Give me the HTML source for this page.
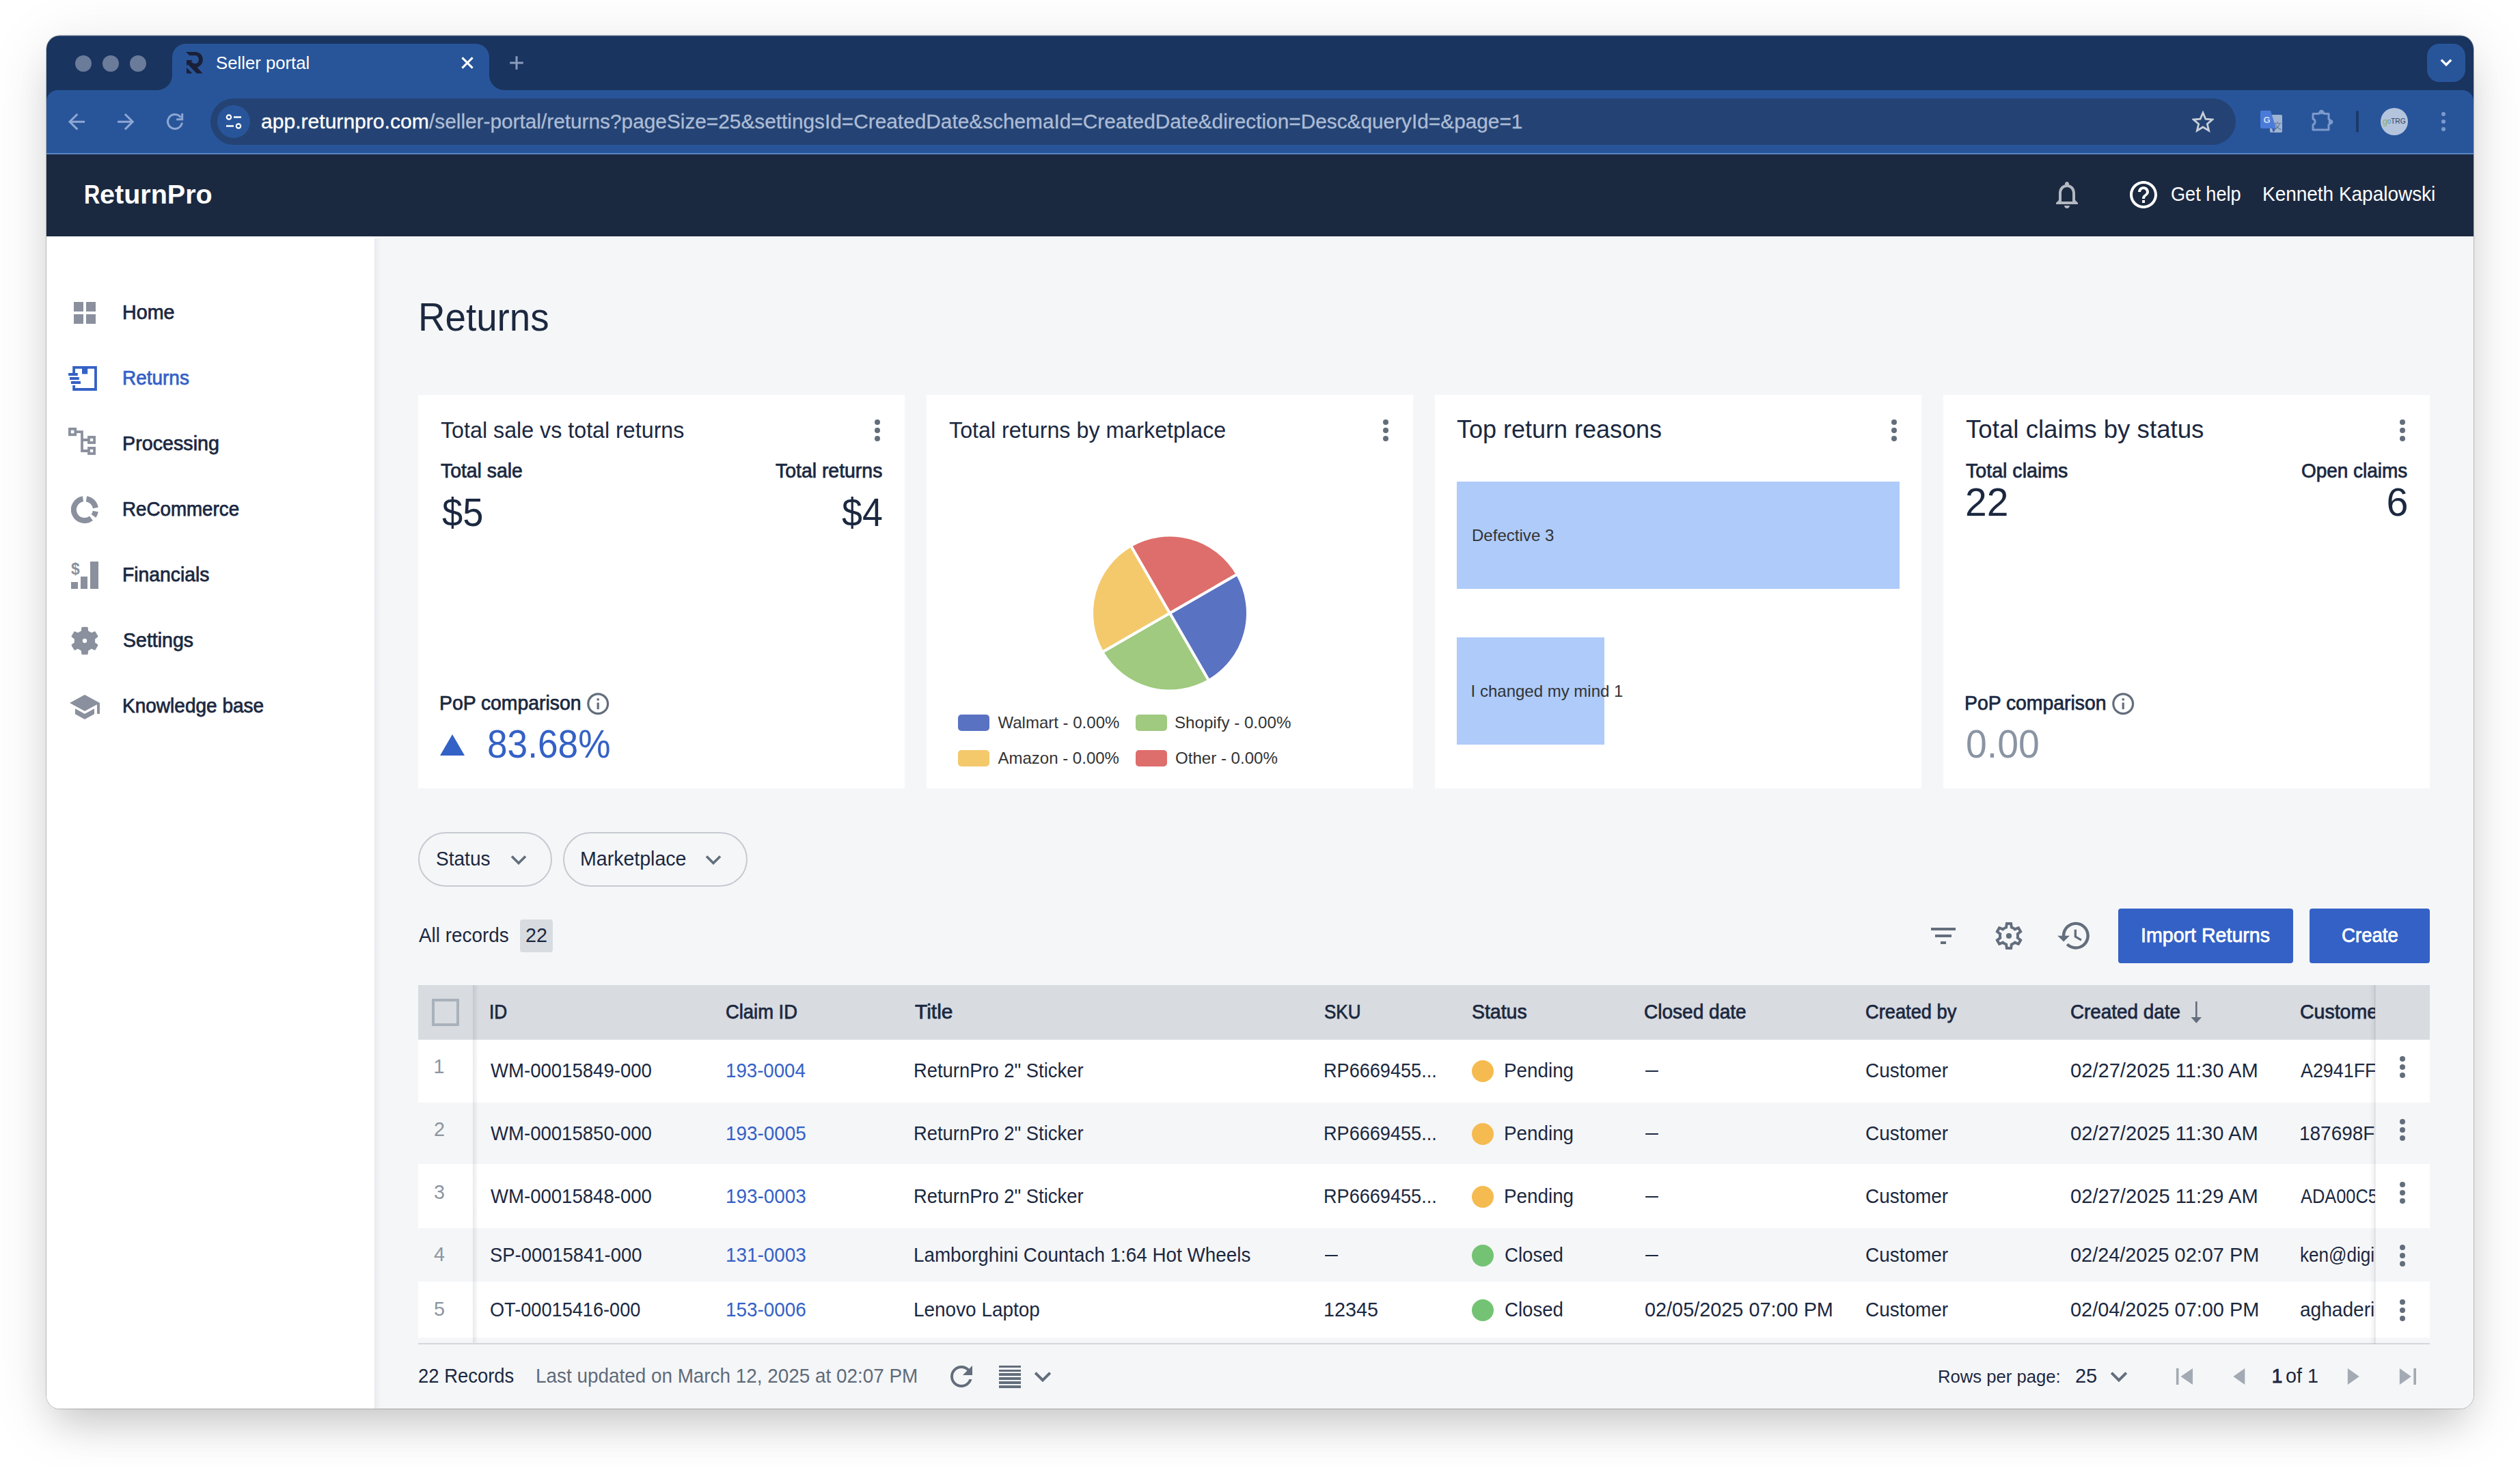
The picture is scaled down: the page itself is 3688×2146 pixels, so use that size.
<!DOCTYPE html><html><head><meta charset="utf-8"><title>Seller portal</title><style>
html,body{margin:0;padding:0;background:#fff;}
body{width:3688px;height:2146px;position:relative;overflow:hidden;font-family:"Liberation Sans", Arial, sans-serif;}
#sh{position:absolute;left:68px;top:52px;width:3552px;height:2010px;border-radius:20px;box-shadow:0 0 0 1px rgba(0,0,0,.20),0 16px 90px rgba(0,0,0,.115),0 32px 56px -14px rgba(0,0,0,.155);}
#w{position:absolute;left:0;top:0;width:3688px;height:2146px;clip-path:inset(52px 68px 84px 68px round 20px);}
#w div,#w svg,#w span{position:absolute;}
#w span{white-space:nowrap;line-height:1;transform-origin:0 0;}
#w span i{display:inline-block;width:0;height:0;}

</style></head><body><div id="sh"></div><div id="w">
<div style="left:68px;top:52px;width:3552px;height:110px;background:#19345e;"></div>
<div style="left:68px;top:132px;width:3552px;height:94px;background:#28559a;border-radius:16px 16px 0 0;"></div>
<svg style="left:0px;top:0px;" width="800" height="140" viewBox="0 0 800 140"><path d="M230 132 A22 22 0 0 0 252 110 L252 84 A20 20 0 0 1 272 64 L696 64 A20 20 0 0 1 716 84 L716 110 A22 22 0 0 0 738 132 Z" fill="#28559a"/></svg>
<div style="left:68px;top:52px;width:3552px;height:1px;background:rgba(190,200,220,.35);"></div>
<div style="left:110px;top:81px;width:24px;height:24px;background:#6b7b9a;border-radius:50%;"></div>
<div style="left:150px;top:81px;width:24px;height:24px;background:#6b7b9a;border-radius:50%;"></div>
<div style="left:190px;top:81px;width:24px;height:24px;background:#6b7b9a;border-radius:50%;"></div>
<svg style="left:272.3px;top:76.3px;" width="24.83" height="31.4" viewBox="460 290 700 885"><path d="M460 290 H850 C1030 290 1160 430 1160 610 C1160 760 1070 880 930 925 L1150 1175 H905 L545 815 L490 870 V625 H735 L680 690 C720 740 780 770 850 770 C930 770 990 700 990 605 C990 510 930 440 850 440 H610 Z M490 935 L730 1175 H490 Z" fill="#1a2038"/></svg>
<span style="font-size:26px;color:#ffffff;left:315.51px;top:78.50px;transform:scaleX(0.9894);">Seller portal</span>
<svg style="left:671.75px;top:80px;" width="24" height="24" viewBox="0 0 24 24"><path d="M4.4 4.4 L19.6 19.6 M19.6 4.4 L4.4 19.6" stroke="#fff" stroke-width="3" fill="none"/></svg>
<svg style="left:743.75px;top:80px;" width="24" height="24" viewBox="0 0 24 24"><path d="M12 2.2 V21.8 M2.2 12 H21.8" stroke="#8a9cbd" stroke-width="3" fill="none"/></svg>
<div style="left:3552px;top:64px;width:56px;height:56px;background:#28559a;border-radius:18px;"></div>
<svg style="left:3566px;top:79px;" width="28" height="24" viewBox="0 0 28 24"><path d="M6.8 8.6 L14 15.8 L21.2 8.6" stroke="#fff" stroke-width="3.4" fill="none"/></svg>
<svg style="left:96px;top:160px;" width="184" height="36" viewBox="96 160 184 36"><g stroke="#8ea7d3" stroke-width="3" fill="none"><path d="M124.1 178.2 H102 M113.3 167 L102 178.2 L113.3 189.4"/><path d="M172.1 178.2 H194.2 M182.9 167 L194.2 178.2 L182.9 189.4"/><path d="M266.4 179.6 A10.5 10.5 0 1 1 264.6 172"/><path d="M266.7 166 V174.7 H258.2"/></g></svg>
<div style="left:308px;top:144px;width:2964px;height:68px;background:#244374;border-radius:34px;"></div>
<div style="left:318px;top:154px;width:48px;height:48px;background:#28559a;border-radius:50%;"></div>
<svg style="left:330px;top:166px;" width="24" height="24" viewBox="0 0 24 24"><circle cx="5" cy="5.5" r="3.2" stroke="#fff" stroke-width="2.2" fill="none"/><path d="M12 5.5 H23" stroke="#fff" stroke-width="2.4"/><circle cx="19" cy="18.5" r="3.2" stroke="#fff" stroke-width="2.2" fill="none"/><path d="M1 18.5 H12" stroke="#fff" stroke-width="2.4"/></svg>
<span style="font-size:28.6px;color:#ffffff;left:381.75px;top:164.00px;transform:scaleX(1.0519);-webkit-text-stroke:0.3px currentColor;">app.returnpro.com</span>
<span style="font-size:28.6px;color:#adbcd5;left:627.80px;top:164.00px;transform:scaleX(1.0423);-webkit-text-stroke:0.3px currentColor;">/seller-portal/returns?pageSize=25&amp;settingsId=CreatedDate&amp;schemaId=CreatedDate&amp;direction=Desc&amp;queryId=&amp;page=1</span>
<svg style="left:3208px;top:162px;" width="32" height="32" viewBox="0 0 32 32"><path d="M16 3 L19.9 12.2 L29.8 13 L22.3 19.5 L24.6 29.2 L16 24 L7.4 29.2 L9.7 19.5 L2.2 13 L12.1 12.2 Z" stroke="#c9ced8" stroke-width="2.8" fill="none" stroke-linejoin="miter"/></svg>
<svg style="left:3308px;top:162px;" width="32" height="32" viewBox="0 0 32 32"><rect x="14" y="6" width="18" height="26" rx="2" fill="#9fb3d3"/><path d="M0 2 Q0 0 2 0 H15 L23 26 H2 Q0 26 0 24 Z" fill="#4a7bd8"/><path d="M17 26 L23 26 L19 32 Z" fill="#3a59b0"/></svg>
<span style="font-size:13px;color:#cfdcf3;font-weight:700;left:3312.60px;top:168.80px;">G</span>
<span style="font-size:12px;color:#5a7396;font-family:'Liberation Sans','Noto Sans CJK SC',sans-serif;left:3327.00px;top:179.00px;">文</span>
<svg style="left:3380px;top:158px;" width="36" height="36" viewBox="0 0 36 36"><path d="M5 8.5 H13.5 A4.2 4.2 0 0 1 21.5 8.5 H28 V16.5 A4.2 4.2 0 0 1 28 24.5 V32 H5 V24.5 A4.5 4.5 0 0 0 5 16 Z" stroke="#7d9acb" stroke-width="3" fill="none" stroke-linejoin="round"/><circle cx="17.5" cy="6" r="3.3" fill="#7d9acb"/><circle cx="31" cy="20.5" r="3.3" fill="#7d9acb"/></svg>
<div style="left:3448px;top:162px;width:4px;height:32px;background:#1b3a6b;border-radius:2px;"></div>
<div style="left:3484px;top:158px;width:40px;height:40px;background:#b4c4dd;border-radius:50%;"></div>
<span style="font-size:12.3px;color:#8bb055;left:3487.00px;top:171.50px;">g</span><span style="font-size:10.25px;color:#4f8fc8;left:3493.50px;top:172.50px;">o</span><span style="font-size:11.27px;color:#2a3f63;left:3499.00px;top:171.50px;transform:scaleX(0.9124);">TRG</span>
<div style="left:3573px;top:164px;width:6px;height:6px;background:#7d9acb;border-radius:50%;"></div>
<div style="left:3573px;top:175px;width:6px;height:6px;background:#7d9acb;border-radius:50%;"></div>
<div style="left:3573px;top:186px;width:6px;height:6px;background:#7d9acb;border-radius:50%;"></div>
<div style="left:68px;top:224px;width:3552px;height:2px;background:#5b85c3;"></div>
<div style="left:68px;top:226px;width:3552px;height:120px;background:#1b2940;"></div>
<span style="font-size:39px;color:#ffffff;font-weight:700;left:122.75px;top:265.40px;transform:scaleX(0.8269);">R</span><span style="font-size:39px;color:#ffffff;font-weight:700;left:146.09px;top:265.40px;transform:scaleX(1.0138);">eturnPro</span>
<svg style="left:3000.75px;top:261px;" width="48" height="48" viewBox="0 0 48 48"><path transform="scale(2)" d="M12 22c1.1 0 2-.9 2-2h-4c0 1.1.9 2 2 2zm6-6v-5c0-3.07-1.63-5.64-4.5-6.32V4c0-.83-.67-1.5-1.5-1.5s-1.5.67-1.5 1.5v.68C7.64 5.36 6 7.92 6 11v5l-2 2v1h16v-1l-2-2zm-2 1H8v-6c0-2.48 1.51-4.5 4-4.5s4 2.02 4 4.5v6z" fill="#b3b8c1"/></svg>
<svg style="left:3113px;top:261px;" width="48" height="48" viewBox="0 0 48 48"><path transform="scale(2)" d="M11 18h2v-2h-2v2zm1-16C6.48 2 2 6.48 2 12s4.48 10 10 10 10-4.48 10-10S17.52 2 12 2zm0 18c-4.41 0-8-3.59-8-8s3.59-8 8-8 8 3.59 8 8-3.59 8-8 8zm0-14c-2.21 0-4 1.79-4 4h2c0-1.1.9-2 2-2s2 .9 2 2c0 2-3 1.75-3 5h2c0-2.25 3-2.5 3-5 0-2.21-1.79-4-4-4z" fill="#fff"/></svg>
<span style="font-size:28.7px;color:#ffffff;left:3177.05px;top:270.00px;transform:scaleX(0.9461);">Get help</span>
<span style="font-size:28.7px;color:#ffffff;left:3311.05px;top:270.00px;transform:scaleX(0.9744);">Kenneth Kapalowski</span>
<div style="left:68px;top:346px;width:3552px;height:1716px;background:#f5f6f8;"></div>
<div style="left:548px;top:350px;width:9px;height:1712px;background:linear-gradient(90deg,#e8eaee,#f5f6f8);"></div>
<div style="left:68px;top:346px;width:480px;height:1716px;background:#fff;border-radius:0 5px 0 0;"></div>
<span style="font-size:28.7px;color:#1b2840;left:179.00px;top:443.00px;-webkit-text-stroke:0.75px currentColor;">Home</span>
<span style="font-size:28.7px;color:#3461c6;left:179.05px;top:539.00px;transform:scaleX(0.9745);-webkit-text-stroke:0.75px currentColor;">Returns</span>
<span style="font-size:28.7px;color:#1b2840;left:179.00px;top:635.00px;-webkit-text-stroke:0.75px currentColor;">Processing</span>
<span style="font-size:28.7px;color:#1b2840;left:179.07px;top:731.00px;transform:scaleX(0.9667);-webkit-text-stroke:0.75px currentColor;">ReCommerce</span>
<span style="font-size:28.7px;color:#1b2840;left:179.03px;top:827.00px;transform:scaleX(0.9873);-webkit-text-stroke:0.75px currentColor;">Financials</span>
<span style="font-size:28.7px;color:#1b2840;left:180.01px;top:923.00px;transform:scaleX(0.9940);-webkit-text-stroke:0.75px currentColor;">Settings</span>
<span style="font-size:28.7px;color:#1b2840;left:179.05px;top:1019.00px;transform:scaleX(0.9767);-webkit-text-stroke:0.75px currentColor;">Knowledge base</span>
<div style="left:108px;top:442px;width:14px;height:14px;background:#8a909d;"></div>
<div style="left:126px;top:442px;width:14px;height:14px;background:#8a909d;"></div>
<div style="left:108px;top:460px;width:14px;height:14px;background:#8a909d;"></div>
<div style="left:126px;top:460px;width:14px;height:14px;background:#8a909d;"></div>
<svg style="left:100px;top:534px;" width="44" height="40" viewBox="0 0 44 40"><g stroke="#3461c6" stroke-width="3.8" fill="none"><path d="M8.1 12 V3.9 H40 V36 H8.1 V30"/><path d="M0.1 14 H13.8 M2 20 H15.8 M3.9 26 H18"/></g><rect x="20" y="2" width="8.2" height="11.5" fill="#3461c6"/></svg>
<svg style="left:100px;top:626px;" width="40" height="40" viewBox="0 0 40 40"><g stroke="#8a909d" stroke-width="3.8" fill="none"><rect x="1.9" y="1.9" width="8.4" height="8.4"/><rect x="30" y="13.9" width="8.1" height="8.1"/><rect x="30" y="29.9" width="8.1" height="8.1"/><path d="M10.3 6.1 H20 V34 H30 M20 18 H30"/></g></svg>
<svg style="left:104px;top:726px;" width="40" height="40" viewBox="0 0 40 40"><g stroke="#8a909d" stroke-width="8" fill="none"><path d="M17.5 4.2 A16 16 0 1 0 29.5 32.8"/><path d="M22.5 4.2 A16 16 0 0 1 35.8 17.5"/><path d="M35.8 22.5 A16 16 0 0 1 33 29.3"/></g></svg>
<svg style="left:104px;top:822px;" width="40" height="40" viewBox="0 0 40 40"><g fill="#8a909d"><rect x="0" y="30" width="10" height="10"/><rect x="14" y="22" width="10" height="18"/><rect x="28" y="0" width="12" height="40"/></g></svg>
<span style="font-size:24.6px;color:#8a909d;font-weight:700;left:103.50px;top:821.00px;transform:scaleX(0.9286);">$</span>
<svg style="left:102px;top:916px;" width="44" height="44" viewBox="0 0 44 44"><path d="M17.66 8.16 L18.35 2.85 L25.65 2.85 L26.34 8.16 L31.81 11.33 L36.76 9.26 L40.42 15.59 L36.15 18.84 L36.15 25.16 L40.42 28.41 L36.76 34.74 L31.81 32.67 L26.34 35.84 L25.65 41.15 L18.35 41.15 L17.66 35.84 L12.19 32.67 L7.24 34.74 L3.58 28.41 L7.85 25.16 L7.85 18.84 L3.58 15.59 L7.24 9.26 L12.19 11.33Z M26.2 22 A4.2 4.2 0 1 0 17.8 22 A4.2 4.2 0 1 0 26.2 22Z" fill="#8a909d" fill-rule="evenodd" stroke="#8a909d" stroke-width="2" stroke-linejoin="round"/></svg>
<svg style="left:100px;top:1011px;" width="48" height="48" viewBox="0 0 48 48"><path transform="scale(2)" d="M5 13.18v4L12 21l7-3.82v-4L12 17l-7-3.82zM12 3L1 9l11 6 9-4.91V17h2V9L12 3z" fill="#8a909d"/></svg>
<span style="font-size:57.4px;color:#1b2840;left:611.99px;top:436.00px;transform:scaleX(0.9536);">Returns</span>
<div style="left:612px;top:578px;width:712px;height:576px;background:#fff;"></div>
<div style="left:1356px;top:578px;width:712px;height:576px;background:#fff;"></div>
<div style="left:2100px;top:578px;width:712px;height:576px;background:#fff;"></div>
<div style="left:2844px;top:578px;width:712px;height:576px;background:#fff;"></div>
<div style="left:1279.8px;top:614px;width:8px;height:8px;background:#636e7c;border-radius:50%;"></div>
<div style="left:1279.8px;top:626px;width:8px;height:8px;background:#636e7c;border-radius:50%;"></div>
<div style="left:1279.8px;top:638px;width:8px;height:8px;background:#636e7c;border-radius:50%;"></div>
<div style="left:2023.8px;top:614px;width:8px;height:8px;background:#636e7c;border-radius:50%;"></div>
<div style="left:2023.8px;top:626px;width:8px;height:8px;background:#636e7c;border-radius:50%;"></div>
<div style="left:2023.8px;top:638px;width:8px;height:8px;background:#636e7c;border-radius:50%;"></div>
<div style="left:2767.8px;top:614px;width:8px;height:8px;background:#636e7c;border-radius:50%;"></div>
<div style="left:2767.8px;top:626px;width:8px;height:8px;background:#636e7c;border-radius:50%;"></div>
<div style="left:2767.8px;top:638px;width:8px;height:8px;background:#636e7c;border-radius:50%;"></div>
<div style="left:3511.8px;top:614px;width:8px;height:8px;background:#636e7c;border-radius:50%;"></div>
<div style="left:3511.8px;top:626px;width:8px;height:8px;background:#636e7c;border-radius:50%;"></div>
<div style="left:3511.8px;top:638px;width:8px;height:8px;background:#636e7c;border-radius:50%;"></div>
<span style="font-size:32.8px;color:#1b2840;left:645.00px;top:614.00px;transform:scaleX(0.9825);">Total sale vs total returns</span>
<span style="font-size:28.7px;color:#1b2840;left:645.00px;top:675.00px;transform:scaleX(0.9876);-webkit-text-stroke:0.75px currentColor;">Total sale</span>
<span style="font-size:28.7px;color:#1b2840;left:1135.00px;top:675.00px;transform:scaleX(0.9904);-webkit-text-stroke:0.75px currentColor;">Total returns</span>
<span style="font-size:57.4px;color:#1b2840;left:647.00px;top:722.00px;transform:scaleX(0.9448);">$5</span>
<span style="font-size:57.4px;color:#1b2840;left:1232.00px;top:722.00px;transform:scaleX(0.9377);">$4</span>
<span style="font-size:28.7px;color:#1b2840;left:643.02px;top:1015.00px;transform:scaleX(0.9878);-webkit-text-stroke:0.75px currentColor;">PoP comparison</span>
<svg style="left:855.8px;top:1010.8px;" width="38.4" height="38.4" viewBox="0 0 38.4 38.4"><path transform="scale(1.6)" d="M11 7h2v2h-2zm0 4h2v6h-2zm1-9C6.48 2 2 6.48 2 12s4.48 10 10 10 10-4.48 10-10S17.52 2 12 2zm0 18c-4.41 0-8-3.59-8-8s3.59-8 8-8 8 3.59 8 8-3.59 8-8 8z" fill="#636e7c"/></svg>
<svg style="left:644px;top:1074px;" width="36" height="32" viewBox="0 0 36 32"><path d="M18 1 L36 32 H0 Z" fill="#3461c6"/></svg>
<span style="font-size:57.4px;color:#3461c6;left:713.15px;top:1061.00px;transform:scaleX(0.9270);">83.68%</span>
<span style="font-size:32.8px;color:#1b2840;left:1388.50px;top:614.00px;transform:scaleX(0.9836);">Total returns by marketplace</span>
<svg style="left:0px;top:0px;pointer-events:none;" width="3688" height="2146" viewBox="0 0 3688 2146"><path d="M1712 897.5 L1810.73 840.50 A114 114 0 0 1 1769.00 996.23 Z" fill="#5a72c2" stroke="#fff" stroke-width="4" stroke-linejoin="round"/><path d="M1712 897.5 L1769.00 996.23 A114 114 0 0 1 1613.27 954.50 Z" fill="#9fca7f" stroke="#fff" stroke-width="4" stroke-linejoin="round"/><path d="M1712 897.5 L1613.27 954.50 A114 114 0 0 1 1655.00 798.77 Z" fill="#f4c96c" stroke="#fff" stroke-width="4" stroke-linejoin="round"/><path d="M1712 897.5 L1655.00 798.77 A114 114 0 0 1 1810.73 840.50 Z" fill="#de6e6b" stroke="#fff" stroke-width="4" stroke-linejoin="round"/></svg>
<div style="left:1402px;top:1046px;width:46px;height:24px;background:#5a72c2;border-radius:5px;"></div>
<span style="font-size:24px;color:#333333;left:1460.50px;top:1046.00px;">Walmart - 0.00%</span>
<div style="left:1662px;top:1046px;width:46px;height:24px;background:#9fca7f;border-radius:5px;"></div>
<span style="font-size:24px;color:#333333;left:1719.49px;top:1046.00px;transform:scaleX(1.0054);">Shopify - 0.00%</span>
<div style="left:1402px;top:1098px;width:46px;height:24px;background:#f4c96c;border-radius:5px;"></div>
<span style="font-size:24px;color:#333333;left:1460.50px;top:1098.00px;">Amazon - 0.00%</span>
<div style="left:1662px;top:1098px;width:46px;height:24px;background:#de6e6b;border-radius:5px;"></div>
<span style="font-size:24px;color:#333333;left:1719.50px;top:1098.00px;transform:scaleX(1.0030);">Other - 0.00%</span>
<span style="font-size:36.9px;color:#1b2840;left:2132.00px;top:611.00px;transform:scaleX(0.9751);">Top return reasons</span>
<div style="left:2132px;top:705px;width:648px;height:157.4px;background:#aecbfa;"></div>
<div style="left:2132px;top:933.2px;width:216px;height:157.2px;background:#aecbfa;"></div>
<span style="font-size:24px;color:#333333;left:2153.60px;top:772.00px;transform:scaleX(1.0024);">Defective 3</span>
<span style="font-size:24px;color:#333333;left:2152.60px;top:1000.00px;">I changed my mind 1</span>
<span style="font-size:36.9px;color:#1b2840;left:2877.00px;top:611.00px;transform:scaleX(0.9939);">Total claims by status</span>
<span style="font-size:28.7px;color:#1b2840;left:2877.00px;top:675.00px;transform:scaleX(0.9966);-webkit-text-stroke:0.75px currentColor;">Total claims</span>
<span style="font-size:28.7px;color:#1b2840;left:3368.03px;top:675.00px;transform:scaleX(0.9741);-webkit-text-stroke:0.75px currentColor;">Open claims</span>
<span style="font-size:57.4px;color:#1b2840;left:2875.51px;top:707.00px;transform:scaleX(0.9930);">22</span>
<span style="font-size:57.4px;color:#1b2840;left:3492.50px;top:707.00px;">6</span>
<span style="font-size:28.7px;color:#1b2840;left:2875.02px;top:1015.00px;transform:scaleX(0.9878);-webkit-text-stroke:0.75px currentColor;">PoP comparison</span>
<svg style="left:3087.8px;top:1010.8px;" width="38.4" height="38.4" viewBox="0 0 38.4 38.4"><path transform="scale(1.6)" d="M11 7h2v2h-2zm0 4h2v6h-2zm1-9C6.48 2 2 6.48 2 12s4.48 10 10 10 10-4.48 10-10S17.52 2 12 2zm0 18c-4.41 0-8-3.59-8-8s3.59-8 8-8 8 3.59 8 8-3.59 8-8 8z" fill="#636e7c"/></svg>
<span style="font-size:57.4px;color:#8a94a3;left:2877.07px;top:1061.00px;transform:scaleX(0.9649);">0.00</span>
<div style="left:612px;top:1218px;width:195.5px;height:80px;background:transparent;border:2px solid #c6cad1;border-radius:40px;box-sizing:border-box;"></div>
<span style="font-size:28.7px;color:#1b2840;left:637.77px;top:1243.00px;transform:scaleX(0.9783);">Status</span>
<svg style="left:744.5px;top:1245px;" width="28" height="28" viewBox="0 0 28 28"><path d="M4 8.5 L14 18.5 L24 8.5" stroke="#636e7c" stroke-width="3.6" fill="none"/></svg>
<div style="left:824.25px;top:1218px;width:269.5px;height:80px;background:transparent;border:2px solid #c6cad1;border-radius:40px;box-sizing:border-box;"></div>
<span style="font-size:28.7px;color:#1b2840;left:849.26px;top:1243.00px;transform:scaleX(0.9948);">Marketplace</span>
<svg style="left:1030.25px;top:1245px;" width="28" height="28" viewBox="0 0 28 28"><path d="M4 8.5 L14 18.5 L24 8.5" stroke="#636e7c" stroke-width="3.6" fill="none"/></svg>
<span style="font-size:28.7px;color:#1b2840;left:612.50px;top:1355.00px;transform:scaleX(0.9710);">All records</span>
<div style="left:761px;top:1346px;width:48px;height:48px;background:#d8dbe0;border-radius:4px;"></div>
<span style="font-size:28.7px;color:#1b2840;left:769.00px;top:1355.00px;">22</span>
<svg style="left:2820px;top:1346px;" width="48" height="48" viewBox="0 0 48 48"><path transform="scale(2)" d="M10 18h4v-2h-4v2zM3 6v2h18V6H3zm3 7h12v-2H6v2z" fill="#636e7c"/></svg>
<svg style="left:2916px;top:1346px;" width="48" height="48" viewBox="0 0 48 48"><path transform="scale(2)" d="M19.43 12.98c.04-.32.07-.64.07-.98 0-.34-.03-.66-.07-.98l2.11-1.65c.19-.15.24-.42.12-.64l-2-3.46c-.09-.16-.26-.25-.44-.25-.06 0-.12.01-.17.03l-2.49 1c-.52-.4-1.08-.73-1.69-.98l-.38-2.65C14.46 2.18 14.25 2 14 2h-4c-.25 0-.46.18-.49.42l-.38 2.65c-.61.25-1.17.59-1.69.98l-2.49-1c-.06-.02-.12-.03-.18-.03-.17 0-.34.09-.43.25l-2 3.46c-.13.22-.07.49.12.64l2.11 1.65c-.04.32-.07.65-.07.98 0 .33.03.66.07.98l-2.11 1.65c-.19.15-.24.42-.12.64l2 3.46c.09.16.26.25.44.25.06 0 .12-.01.17-.03l2.49-1c.52.4 1.08.73 1.69.98l.38 2.65c.03.24.24.42.49.42h4c.25 0 .46-.18.49-.42l.38-2.65c.61-.25 1.17-.59 1.69-.98l2.49 1c.06.02.12.03.18.03.17 0 .34-.09.43-.25l2-3.46c.12-.22.07-.49-.12-.64l-2.11-1.65zm-1.98-1.71c.04.31.05.52.05.73 0 .21-.02.43-.05.73l-.14 1.13.89.7 1.08.84-.7 1.21-1.27-.51-1.04-.42-.9.68c-.43.32-.84.56-1.25.73l-1.06.43-.16 1.13-.2 1.35h-1.4l-.19-1.35-.16-1.13-1.06-.43c-.43-.18-.83-.41-1.23-.71l-.91-.7-1.06.43-1.27.51-.7-1.21 1.08-.84.89-.7-.14-1.13c-.03-.31-.05-.54-.05-.74s.02-.43.05-.73l.14-1.13-.89-.7-1.08-.84.7-1.21 1.27.51 1.04.42.9-.68c.43-.32.84-.56 1.25-.73l1.06-.43.16-1.13.2-1.35h1.39l.19 1.35.16 1.13 1.06.43c.43.18.83.41 1.23.71l.91.7 1.06-.43 1.27-.51.7 1.21-1.07.85-.89.7.14 1.13zM12 9.94a2.06 2.06 0 1 0 0 4.12a2.06 2.06 0 1 0 0-4.12z" fill="#636e7c"/></svg>
<svg style="left:3009px;top:1343.3px;" width="53.4" height="53.4" viewBox="0 0 53.4 53.4"><path transform="scale(2.2222)" d="M13 3c-4.97 0-9 4.03-9 9H1l3.89 3.89.07.14L9 12H6c0-3.870 3.13-7 7-7s7 3.13 7 7-3.13 7-7 7c-1.93 0-3.68-.79-4.94-2.06l-1.42 1.42C8.27 19.99 10.51 21 13 21c4.97 0 9-4.03 9-9s-4.03-9-9-9zm-1 5v5l4.28 2.54.72-1.21-3.5-2.08V8H12z" fill="#636e7c"/></svg>
<div style="left:3100px;top:1330px;width:256px;height:80px;background:#3461c6;border-radius:4px;"></div>
<span style="font-size:28.7px;color:#ffffff;left:3133.01px;top:1355.00px;transform:scaleX(0.9964);-webkit-text-stroke:0.75px currentColor;">Import Returns</span>
<div style="left:3380px;top:1330px;width:176px;height:80px;background:#3461c6;border-radius:4px;"></div>
<span style="font-size:28.7px;color:#ffffff;left:3427.04px;top:1355.00px;transform:scaleX(0.9626);-webkit-text-stroke:0.75px currentColor;">Create</span>
<div style="left:612px;top:1442px;width:2944px;height:80px;background:#d8dbe0;"></div>
<div style="left:612px;top:1522px;width:2944px;height:92px;background:#fff;"></div>
<div style="left:612px;top:1614px;width:2944px;height:90px;background:#f5f6f8;"></div>
<div style="left:612px;top:1704px;width:2944px;height:94px;background:#fff;"></div>
<div style="left:612px;top:1798px;width:2944px;height:78px;background:#f5f6f8;"></div>
<div style="left:612px;top:1876px;width:2944px;height:82px;background:#fff;"></div>
<div style="left:692px;top:1442px;width:8px;height:525px;background:linear-gradient(90deg,rgba(40,50,70,.11),rgba(40,50,70,0));"></div>
<div style="left:612px;top:1966px;width:2944px;height:2px;background:#d3d7dc;"></div>
<div style="left:632px;top:1462px;width:40px;height:40px;background:transparent;border:4px solid #a9b1bb;border-radius:1px;box-sizing:border-box;"></div>
<span style="font-size:28.7px;color:#1b2840;left:715.67px;top:1467.00px;transform:scaleX(0.9145);-webkit-text-stroke:0.75px currentColor;">ID</span>
<span style="font-size:28.7px;color:#1b2840;left:1062.05px;top:1467.00px;transform:scaleX(0.9538);-webkit-text-stroke:0.75px currentColor;">Claim ID</span>
<span style="font-size:28.7px;color:#1b2840;left:1339.00px;top:1467.00px;transform:scaleX(1.0445);-webkit-text-stroke:0.75px currentColor;">Title</span>
<span style="font-size:28.7px;color:#1b2840;left:1937.79px;top:1467.00px;transform:scaleX(0.9064);-webkit-text-stroke:0.75px currentColor;">SKU</span>
<span style="font-size:28.7px;color:#1b2840;left:2153.81px;top:1467.00px;transform:scaleX(0.9914);-webkit-text-stroke:0.75px currentColor;">Status</span>
<span style="font-size:28.7px;color:#1b2840;left:2405.82px;top:1467.00px;transform:scaleX(0.9778);-webkit-text-stroke:0.75px currentColor;">Closed date</span>
<span style="font-size:28.7px;color:#1b2840;left:2730.25px;top:1467.00px;transform:scaleX(0.9501);-webkit-text-stroke:0.75px currentColor;">Created by</span>
<span style="font-size:28.7px;color:#1b2840;left:3030.03px;top:1467.00px;transform:scaleX(0.9701);-webkit-text-stroke:0.75px currentColor;">Created date</span>
<span style="font-size:28.7px;color:#1b2840;left:3365.61px;top:1467.00px;transform:scaleX(0.9936);-webkit-text-stroke:0.75px currentColor;">Customer</span>
<svg style="left:3204px;top:1462px;" width="20" height="40" viewBox="0 0 20 40"><path d="M10.3 4 V28" stroke="#636e7c" stroke-width="2.6" fill="none"/><path d="M2.5 27 H18.1 L10.3 35.8 Z" fill="#636e7c"/></svg>
<span style="font-size:28.7px;color:#8d959f;left:634.50px;top:1547.00px;">1</span>
<span style="font-size:28.7px;color:#1b2840;left:717.50px;top:1553.00px;transform:scaleX(0.9606);">WM-00015849-000</span>
<span style="font-size:28.7px;color:#3461c6;left:1061.82px;top:1553.00px;transform:scaleX(0.9641);">193-0004</span>
<span style="font-size:28.7px;color:#1b2840;left:1337.09px;top:1553.00px;transform:scaleX(0.9539);">ReturnPro 2" Sticker</span>
<span style="font-size:28.7px;color:#1b2840;left:1936.81px;top:1553.00px;transform:scaleX(0.9447);">RP6669455...</span>
<div style="left:2154px;top:1551.5px;width:32px;height:32px;background:#f5bb50;border-radius:50%;"></div>
<span style="font-size:28.7px;color:#1b2840;left:2201.46px;top:1553.00px;transform:scaleX(0.9694);">Pending</span>
<span style="font-size:28.7px;color:#1b2840;left:2407.60px;top:1551.50px;transform:scaleX(0.6552);">—</span>
<span style="font-size:28.7px;color:#1b2840;left:2730.23px;top:1553.00px;transform:scaleX(0.9742);">Customer</span>
<span style="font-size:28.7px;color:#1b2840;left:3029.99px;top:1553.00px;transform:scaleX(1.0148);">02/27/2025 11:30 AM</span>
<span style="font-size:28.7px;color:#1b2840;left:3366.60px;top:1553.00px;transform:scaleX(0.9364);">A2941FF</span>
<span style="font-size:28.7px;color:#8d959f;left:635.00px;top:1639.00px;">2</span>
<span style="font-size:28.7px;color:#1b2840;left:717.50px;top:1645.00px;transform:scaleX(0.9606);">WM-00015850-000</span>
<span style="font-size:28.7px;color:#3461c6;left:1061.81px;top:1645.00px;transform:scaleX(0.9723);">193-0005</span>
<span style="font-size:28.7px;color:#1b2840;left:1337.09px;top:1645.00px;transform:scaleX(0.9539);">ReturnPro 2" Sticker</span>
<span style="font-size:28.7px;color:#1b2840;left:1936.81px;top:1645.00px;transform:scaleX(0.9447);">RP6669455...</span>
<div style="left:2154px;top:1643.5px;width:32px;height:32px;background:#f5bb50;border-radius:50%;"></div>
<span style="font-size:28.7px;color:#1b2840;left:2201.46px;top:1645.00px;transform:scaleX(0.9694);">Pending</span>
<span style="font-size:28.7px;color:#1b2840;left:2407.60px;top:1643.50px;transform:scaleX(0.6552);">—</span>
<span style="font-size:28.7px;color:#1b2840;left:2730.23px;top:1645.00px;transform:scaleX(0.9742);">Customer</span>
<span style="font-size:28.7px;color:#1b2840;left:3029.99px;top:1645.00px;transform:scaleX(1.0148);">02/27/2025 11:30 AM</span>
<span style="font-size:28.7px;color:#1b2840;left:3364.65px;top:1645.00px;transform:scaleX(0.9754);">187698F</span>
<span style="font-size:28.7px;color:#8d959f;left:635.00px;top:1731.00px;">3</span>
<span style="font-size:28.7px;color:#1b2840;left:717.50px;top:1737.00px;transform:scaleX(0.9606);">WM-00015848-000</span>
<span style="font-size:28.7px;color:#3461c6;left:1061.81px;top:1737.00px;transform:scaleX(0.9723);">193-0003</span>
<span style="font-size:28.7px;color:#1b2840;left:1337.09px;top:1737.00px;transform:scaleX(0.9539);">ReturnPro 2" Sticker</span>
<span style="font-size:28.7px;color:#1b2840;left:1936.81px;top:1737.00px;transform:scaleX(0.9447);">RP6669455...</span>
<div style="left:2154px;top:1735.5px;width:32px;height:32px;background:#f5bb50;border-radius:50%;"></div>
<span style="font-size:28.7px;color:#1b2840;left:2201.46px;top:1737.00px;transform:scaleX(0.9694);">Pending</span>
<span style="font-size:28.7px;color:#1b2840;left:2407.60px;top:1735.50px;transform:scaleX(0.6552);">—</span>
<span style="font-size:28.7px;color:#1b2840;left:2730.23px;top:1737.00px;transform:scaleX(0.9742);">Customer</span>
<span style="font-size:28.7px;color:#1b2840;left:3029.99px;top:1737.00px;transform:scaleX(1.0148);">02/27/2025 11:29 AM</span>
<span style="font-size:28.7px;color:#1b2840;left:3366.60px;top:1737.00px;transform:scaleX(0.8846);">ADA00C5</span>
<span style="font-size:28.7px;color:#8d959f;left:635.00px;top:1822.00px;">4</span>
<span style="font-size:28.7px;color:#1b2840;left:716.55px;top:1823.00px;transform:scaleX(0.9549);">SP-00015841-000</span>
<span style="font-size:28.7px;color:#3461c6;left:1061.81px;top:1823.00px;transform:scaleX(0.9723);">131-0003</span>
<span style="font-size:28.7px;color:#1b2840;left:1337.06px;top:1823.00px;transform:scaleX(0.9697);">Lamborghini Countach 1:64 Hot Wheels</span>
<span style="font-size:28.7px;color:#1b2840;left:1938.70px;top:1821.50px;transform:scaleX(0.6552);">—</span>
<div style="left:2154px;top:1821.5px;width:32px;height:32px;background:#74c374;border-radius:50%;"></div>
<span style="font-size:28.7px;color:#1b2840;left:2202.44px;top:1823.00px;transform:scaleX(0.9617);">Closed</span>
<span style="font-size:28.7px;color:#1b2840;left:2407.60px;top:1821.50px;transform:scaleX(0.6552);">—</span>
<span style="font-size:28.7px;color:#1b2840;left:2730.23px;top:1823.00px;transform:scaleX(0.9742);">Customer</span>
<span style="font-size:28.7px;color:#1b2840;left:3029.99px;top:1823.00px;transform:scaleX(1.0068);">02/24/2025 02:07 PM</span>
<span style="font-size:28.7px;color:#1b2840;left:3365.69px;top:1823.00px;transform:scaleX(0.9094);">ken@digi</span>
<span style="font-size:28.7px;color:#8d959f;left:635.00px;top:1902.00px;">5</span>
<span style="font-size:28.7px;color:#1b2840;left:716.55px;top:1903.00px;transform:scaleX(0.9463);">OT-00015416-000</span>
<span style="font-size:28.7px;color:#3461c6;left:1061.81px;top:1903.00px;transform:scaleX(0.9723);">153-0006</span>
<span style="font-size:28.7px;color:#1b2840;left:1337.05px;top:1903.00px;transform:scaleX(0.9739);">Lenovo Laptop</span>
<span style="font-size:28.7px;color:#1b2840;left:1936.70px;top:1903.00px;transform:scaleX(1.0024);">12345</span>
<div style="left:2154px;top:1901.5px;width:32px;height:32px;background:#74c374;border-radius:50%;"></div>
<span style="font-size:28.7px;color:#1b2840;left:2202.44px;top:1903.00px;transform:scaleX(0.9617);">Closed</span>
<span style="font-size:28.7px;color:#1b2840;left:2406.59px;top:1903.00px;transform:scaleX(1.0057);">02/05/2025 07:00 PM</span>
<span style="font-size:28.7px;color:#1b2840;left:2730.23px;top:1903.00px;transform:scaleX(0.9742);">Customer</span>
<span style="font-size:28.7px;color:#1b2840;left:3029.99px;top:1903.00px;transform:scaleX(1.0068);">02/04/2025 07:00 PM</span>
<span style="font-size:28.7px;color:#1b2840;left:3365.62px;top:1903.00px;transform:scaleX(0.9791);">aghaderi</span>
<div style="left:3468px;top:1442px;width:8px;height:525px;background:linear-gradient(90deg,rgba(40,50,70,0),rgba(40,50,70,.07));"></div>
<div style="left:3476px;top:1442px;width:80px;height:80px;background:#d8dbe0;"></div>
<div style="left:3476px;top:1522px;width:80px;height:92px;background:#fff;"></div>
<div style="left:3476px;top:1614px;width:80px;height:90px;background:#f5f6f8;"></div>
<div style="left:3476px;top:1704px;width:80px;height:94px;background:#fff;"></div>
<div style="left:3476px;top:1798px;width:80px;height:78px;background:#f5f6f8;"></div>
<div style="left:3476px;top:1876px;width:80px;height:82px;background:#fff;"></div>
<div style="left:3475px;top:1442px;width:1.5px;height:525px;background:rgba(40,50,70,.07);"></div>
<div style="left:3511.8px;top:1546px;width:8px;height:8px;background:#636e7c;border-radius:50%;"></div>
<div style="left:3511.8px;top:1558px;width:8px;height:8px;background:#636e7c;border-radius:50%;"></div>
<div style="left:3511.8px;top:1570px;width:8px;height:8px;background:#636e7c;border-radius:50%;"></div>
<div style="left:3511.8px;top:1638px;width:8px;height:8px;background:#636e7c;border-radius:50%;"></div>
<div style="left:3511.8px;top:1650px;width:8px;height:8px;background:#636e7c;border-radius:50%;"></div>
<div style="left:3511.8px;top:1662px;width:8px;height:8px;background:#636e7c;border-radius:50%;"></div>
<div style="left:3511.8px;top:1730px;width:8px;height:8px;background:#636e7c;border-radius:50%;"></div>
<div style="left:3511.8px;top:1742px;width:8px;height:8px;background:#636e7c;border-radius:50%;"></div>
<div style="left:3511.8px;top:1754px;width:8px;height:8px;background:#636e7c;border-radius:50%;"></div>
<div style="left:3511.8px;top:1822px;width:8px;height:8px;background:#636e7c;border-radius:50%;"></div>
<div style="left:3511.8px;top:1834px;width:8px;height:8px;background:#636e7c;border-radius:50%;"></div>
<div style="left:3511.8px;top:1846px;width:8px;height:8px;background:#636e7c;border-radius:50%;"></div>
<div style="left:3511.8px;top:1902px;width:8px;height:8px;background:#636e7c;border-radius:50%;"></div>
<div style="left:3511.8px;top:1914px;width:8px;height:8px;background:#636e7c;border-radius:50%;"></div>
<div style="left:3511.8px;top:1926px;width:8px;height:8px;background:#636e7c;border-radius:50%;"></div>
<span style="font-size:28.7px;color:#1b2840;left:611.84px;top:2000.00px;transform:scaleX(0.9563);">22 Records</span>
<span style="font-size:28.7px;color:#5f6b7a;left:783.56px;top:2000.00px;transform:scaleX(0.9714);">Last updated on March 12, 2025 at 02:07 PM</span>
<svg style="left:1382.7px;top:1990.7px;" width="48" height="48" viewBox="0 0 48 48"><path transform="scale(2)" d="M17.65 6.35C16.2 4.9 14.21 4 12 4c-4.42 0-7.99 3.58-7.990 8s3.57 8 7.990 8c3.73 0 6.84-2.55 7.73-6h-2.080c-.82 2.33-3.04 4-5.650 4-3.310 0-6-2.69-6-6s2.690-6 6-6c1.66 0 3.14.69 4.220 1.780L13 11h7V4l-2.350 2.350z" fill="#636e7c"/></svg>
<div style="left:1462px;top:1998.6px;width:32px;height:3.4px;background:#636e7c;"></div>
<div style="left:1462px;top:2004.54px;width:32px;height:3.4px;background:#636e7c;"></div>
<div style="left:1462px;top:2010.48px;width:32px;height:3.4px;background:#636e7c;"></div>
<div style="left:1462px;top:2016.4199999999998px;width:32px;height:3.4px;background:#636e7c;"></div>
<div style="left:1462px;top:2022.36px;width:32px;height:3.4px;background:#636e7c;"></div>
<div style="left:1462px;top:2028.3px;width:32px;height:3.4px;background:#636e7c;"></div>
<svg style="left:1512px;top:2005.5px;" width="28" height="20" viewBox="0 0 28 20"><path d="M3.2 3.6 L14 14.4 L24.8 3.6" stroke="#636e7c" stroke-width="4" fill="none"/></svg>
<span style="font-size:26.65px;color:#1b2840;left:2835.57px;top:2001.50px;transform:scaleX(0.9633);">Rows per page:</span>
<span style="font-size:28.7px;color:#1b2840;left:3036.69px;top:1999.50px;transform:scaleX(1.0082);">25</span>
<svg style="left:3087px;top:2005.7px;" width="28" height="20" viewBox="0 0 28 20"><path d="M3.2 3.6 L14 14.4 L24.8 3.6" stroke="#636e7c" stroke-width="4" fill="none"/></svg>
<svg style="left:3180px;top:1999px;" width="40" height="32" viewBox="0 0 40 32"><rect x="4.9" y="4" width="3.6" height="24" fill="#a3aab4"/><path d="M29 4 V28 L11.5 16 Z" fill="#a3aab4"/></svg>
<svg style="left:3260px;top:1999px;" width="40" height="32" viewBox="0 0 40 32"><path d="M25.3 4 V28 L8.4 16 Z" fill="#a3aab4"/></svg>
<span style="font-size:28.7px;color:#1b2840;left:3324.60px;top:1999.50px;-webkit-text-stroke:0.75px currentColor;">1</span>
<span style="font-size:28.7px;color:#1b2840;left:3345.40px;top:1999.50px;transform:scaleX(1.0023);">of 1</span>
<svg style="left:3420px;top:1999px;" width="40" height="32" viewBox="0 0 40 32"><path d="M15.8 4 V28 L32.7 16 Z" fill="#a3aab4"/></svg>
<svg style="left:3500px;top:1999px;" width="40" height="32" viewBox="0 0 40 32"><path d="M11.8 4 V28 L28.7 16 Z" fill="#a3aab4"/><rect x="32.3" y="4" width="3.7" height="24" fill="#a3aab4"/></svg>
</div></body></html>
